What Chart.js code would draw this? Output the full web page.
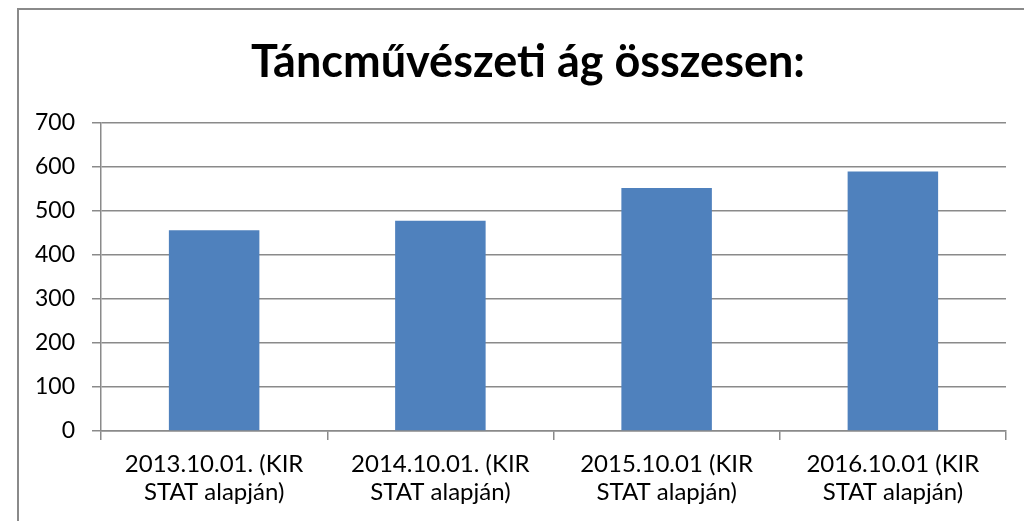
<!DOCTYPE html>
<html>
<head>
<meta charset="utf-8">
<script src="https://cdn.jsdelivr.net/npm/chart.js@4"></script>
<style>
  html, body { margin: 0; padding: 0; background: #fff; }
  #wrap { position: relative; width: 1024px; height: 521px; overflow: hidden; }
  #frame { position: absolute; left: 17px; top: 8px; width: 1040px; height: 540px; border: 2px solid #8a8a8a; box-sizing: border-box; }
  canvas { position: absolute; left: 0; top: 0; }
</style>
</head>
<body>
<div id="wrap">
  <div id="frame"></div>
  <canvas id="myChart" width="1024" height="521"></canvas>
</div>
<script>
const chartTitle = 'Táncművészeti ág összesen:';
const categories = [
  ['2013.10.01. (KIR', 'STAT alapján)'],
  ['2014.10.01. (KIR', 'STAT alapján)'],
  ['2015.10.01 (KIR', 'STAT alapján)'],
  ['2016.10.01 (KIR', 'STAT alapján)']
];
const values = [456, 478, 552, 590];
const yMax = 700;
const yStep = 100;

const gridColor = '#8a8a8a';
const fontFamily = 'Lato, Calibri, sans-serif';

// title centred on the outer frame rather than on the canvas
const frameTitle = {
  id: 'frameTitle',
  afterDraw(chart) {
    const c = chart.ctx;
    c.save();
    c.font = 'bold 45px ' + fontFamily;
    c.fillStyle = '#000';
    c.textAlign = 'center';
    c.textBaseline = 'middle';
    c.fillText(chartTitle, 528, 62);
    c.restore();
  }
};

const ctx = document.getElementById('myChart').getContext('2d');
new Chart(ctx, {
  type: 'bar',
  data: {
    labels: categories,
    datasets: [{
      data: values,
      backgroundColor: '#4F81BD',
      borderWidth: 0,
      barPercentage: 0.8,
      categoryPercentage: 0.5
    }]
  },
  options: {
    responsive: false,
    animation: false,
    layout: { padding: { left: 0, right: 18, top: 123, bottom: 0 } },
    plugins: {
      legend: { display: false },
      tooltip: { enabled: false },
      title: { display: false }
    },
    scales: {
      x: {
        grid: { display: true, drawOnChartArea: false, color: gridColor, lineWidth: 1.5, tickLength: 9 },
        border: { color: gridColor, width: 1.5 },
        ticks: { color: '#000', font: { family: fontFamily, size: 24, lineHeight: 1.17 }, padding: 10, maxRotation: 0, autoSkip: false },
        afterFit: (scale) => { scale.height = 90; }
      },
      y: {
        min: 0,
        max: yMax,
        ticks: { stepSize: yStep, color: '#000', font: { family: fontFamily, size: 23 }, padding: 17 },
        grid: { color: gridColor, lineWidth: 1.5, tickLength: 9 },
        border: { color: gridColor, width: 1.5 },
        afterFit: (scale) => { scale.width = 101; }
      }
    }
  },
  plugins: [frameTitle]
});
</script>
</body>
</html>
